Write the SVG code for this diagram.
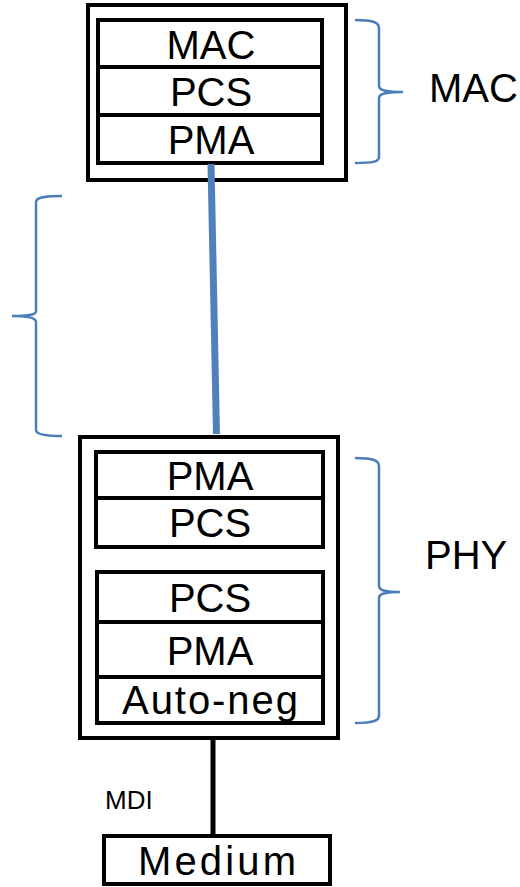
<svg xmlns="http://www.w3.org/2000/svg" width="520" height="887" viewBox="0 0 520 887">
<style>
.box{fill:#fff;stroke:#000;stroke-width:4}
.t{font-family:"Liberation Sans",Arial,sans-serif;font-size:40px;fill:#000;text-anchor:middle}
.lbl{font-family:"Liberation Sans",Arial,sans-serif;font-size:40px;fill:#000}
.brace{fill:none;stroke:#4a7ebb;stroke-width:2.5}
</style>
<rect width="520" height="887" fill="#fff"/>
<g id="mac-device">
<rect class="box" x="88" y="5" width="258" height="175"/>
<g id="mac-layer"><rect class="box" x="98" y="20" width="224" height="47"/><text class="t" x="211" y="59">MAC</text></g>
<g id="mac-pcs"><rect class="box" x="98" y="67" width="224" height="48"/><text class="t" x="211" y="106">PCS</text></g>
<g id="mac-pma"><rect class="box" x="98" y="115" width="224" height="48"/><text class="t" x="211" y="154">PMA</text></g>
</g>
<g id="phy-device">
<rect class="box" x="80" y="437" width="258" height="301"/>
<g id="phy-pma1"><rect class="box" x="96" y="452" width="227" height="46"/><text class="t" x="210" y="490">PMA</text></g>
<g id="phy-pcs1"><rect class="box" x="96" y="498" width="227" height="49"/><text class="t" x="210" y="537">PCS</text></g>
<g id="phy-pcs2"><rect class="box" x="97" y="572" width="226" height="50"/><text class="t" x="210" y="612">PCS</text></g>
<g id="phy-pma2"><rect class="box" x="97" y="622" width="226" height="55"/><text class="t" x="210" y="665">PMA</text></g>
<g id="phy-autoneg"><rect class="box" x="97" y="677" width="226" height="46"/><text class="t" x="210" y="714" textLength="176">Auto-neg</text></g>
</g>
<g id="medium">
<rect class="box" x="104" y="836" width="226" height="48"/>
<text class="t" x="217" y="875" textLength="158">Medium</text>
</g>
<g id="connectors">
<line x1="211" y1="164" x2="216.5" y2="434" stroke="#4f81bd" stroke-width="7"/>
<line x1="213" y1="739" x2="213" y2="836" stroke="#000" stroke-width="5"/>
</g>
<g id="braces">
<path class="brace" d="M355,20 C372,20 379,22 379,28 L379,86 C379,90 385,92 403,92 C385,92 379,94 379,98 L379,157 C379,162 372,163 355,163"/>
<path class="brace" d="M62,196 C45,196 36,197 36,202 L36,311 C36,315 28,316 12,316 C28,316 36,318 36,322 L36,430 C36,434 45,436 62,436"/>
<path class="brace" d="M355,458 C372,458 379,460 379,466 L379,586 C379,590 384,592 400,592 C384,592 379,594 379,598 L379,716 C379,721 372,723 355,723"/>
</g>
<g id="labels">
<text class="lbl" x="429" y="102">MAC</text>
<text class="lbl" x="425" y="569">PHY</text>
<text class="lbl" x="105" y="809" style="font-size:26px">MDI</text>
</g>
</svg>
